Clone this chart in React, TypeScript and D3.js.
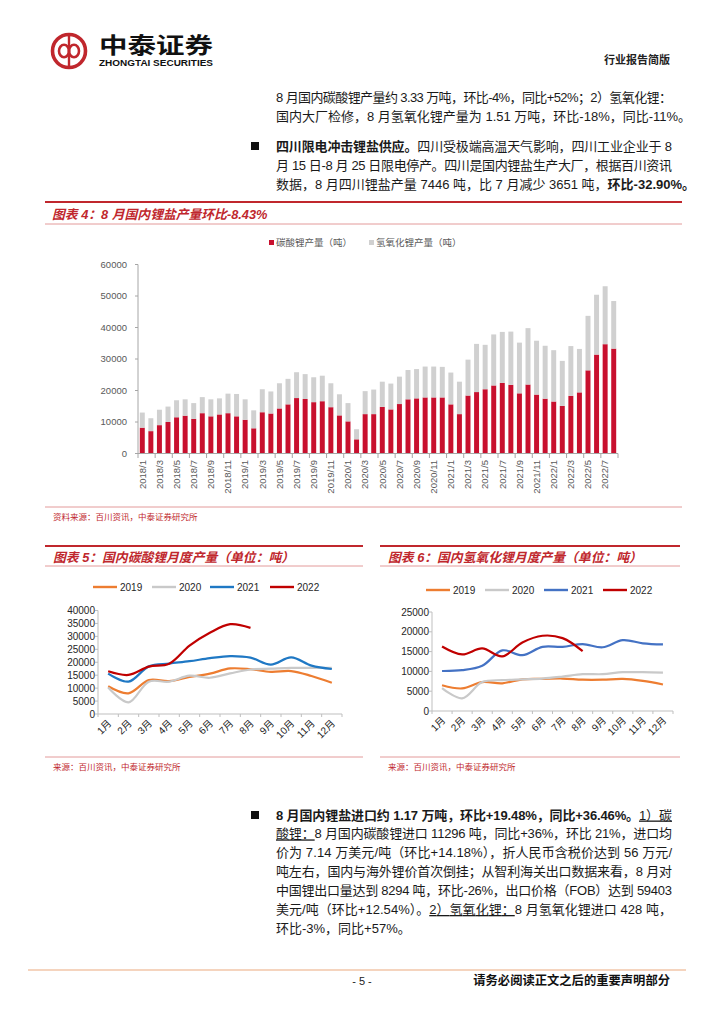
import React from "react";
import * as d3 from "d3";

// ---------- data ----------
const years = ["2018", "2019", "2020", "2021", "2022"];
const monthLabels = ["1月", "2月", "3月", "4月", "5月", "6月", "7月", "8月", "9月", "10月", "11月", "12月"];

const carbonate2018 = [8200, 7100, 9000, 10000, 11500, 12000, 11000, 12800, 11800, 12400, 12800, 11800];
const hydroxide2018 = [4800, 4100, 4900, 4900, 5400, 5200, 5000, 5100, 5400, 5100, 6200, 7100];
const carbonate2019 = [10700, 8000, 13100, 12700, 14300, 15600, 17600, 17300, 16300, 16600, 14700, 12100];
const hydroxide2019 = [6500, 5700, 7300, 7000, 8000, 8100, 8200, 7900, 7900, 8100, 7600, 6700];
const carbonate2020 = [10200, 4500, 12500, 12500, 14800, 14000, 15700, 17200, 17500, 17800, 17800, 17800];
const hydroxide2020 = [5800, 3200, 7300, 7800, 8000, 8200, 8700, 9300, 9300, 9800, 9800, 9700];
const carbonate2021 = [15600, 12500, 18400, 19500, 20400, 21600, 22400, 21800, 19100, 21900, 18700, 17400];
const hydroxide2021 = [10100, 10300, 11400, 15300, 14100, 16200, 16200, 16900, 16100, 17900, 17100, 16800];
const carbonate2022 = [16500, 15100, 18300, 19400, 26400, 31400, 34700, 33300];
const hydroxide2022 = [16300, 14300, 15800, 13800, 17300, 19000, 18400, 15100];

const carbonateByYear = [carbonate2018, carbonate2019, carbonate2020, carbonate2021, carbonate2022];
const hydroxideByYear = [hydroxide2018, hydroxide2019, hydroxide2020, hydroxide2021, hydroxide2022];

const yTicks4 = [0, 10000, 20000, 30000, 40000, 50000, 60000];
const yTicks5 = [0, 5000, 10000, 15000, 20000, 25000, 30000, 35000, 40000];
const yTicks6 = [0, 5000, 10000, 15000, 20000, 25000];

const lineYears = ["2019", "2020", "2021", "2022"];
const lineColors5 = ["#ED7D31", "#C9C9C9", "#1F78C4", "#C00000"];
const lineColors6 = ["#ED7D31", "#C9C9C9", "#4472C4", "#C00000"];

// ---------- style ----------
const SANS = "'Liberation Sans', Arial, 'Noto Sans CJK SC', sans-serif";
const CJK = "'Liberation Sans', 'Noto Sans CJK SC', sans-serif";
const RED = "#C0272D";
const THIN = "#E39A9A";
const TXT = "#1a1a1a";

type Seg = { t: string; b?: boolean; u?: boolean };

function Line({ x, y, segs, width }: { x: number; y: number; segs: Seg[]; width?: number }) {
  return (
    <text
      x={x}
      y={y}
      fontSize={13}
      fontFamily={CJK}
      fill={TXT}
      textLength={width}
      lengthAdjust={width ? "spacing" : undefined}
    >
      {segs.map((s, i) => (
        <tspan key={i} fontWeight={s.b ? 700 : 400} textDecoration={s.u ? "underline" : undefined}>
          {s.t}
        </tspan>
      ))}
    </text>
  );
}

const TX = 276;
const TW = 396;

const p1: Seg[][] = [
  [{ t: "8 月国内碳酸锂产量约 3.33 万吨，环比-4%，同比+52%；2）氢氧化锂：" }],
  [{ t: "国内大厂检修，8 月氢氧化锂产量为 1.51 万吨，环比-18%，同比-11%。" }],
];
const p2: Seg[][] = [
  [{ t: "四川限电冲击锂盐供应。", b: true }, { t: "四川受极端高温天气影响，四川工业企业于 8" }],
  [{ t: "月 15 日-8 月 25 日限电停产。四川是国内锂盐生产大厂，根据百川资讯" }],
  [{ t: "数据，8 月四川锂盐产量 7446 吨，比 7 月减少 3651 吨，" }, { t: "环比-32.90%。", b: true }],
];
const p3: Seg[][] = [
  [{ t: "8 月国内锂盐进口约 1.17 万吨，环比+19.48%，同比+36.46%。", b: true }, { t: "1）碳", u: true }],
  [{ t: "酸锂：", u: true }, { t: "8 月国内碳酸锂进口 11296 吨，同比+36%，环比 21%，进口均" }],
  [{ t: "价为 7.14 万美元/吨（环比+14.18%），折人民币含税价达到 56 万元/" }],
  [{ t: "吨左右，国内与海外锂价首次倒挂；从智利海关出口数据来看，8 月对" }],
  [{ t: "中国锂出口量达到 8294 吨，环比-26%，出口价格（FOB）达到 59403" }],
  [{ t: "美元/吨（环比+12.54%）。" }, { t: "2）氢氧化锂：", u: true }, { t: "8 月氢氧化锂进口 428 吨，" }],
  [{ t: "环比-3%，同比+57%。" }],
];

function Paragraph({ lines, y0, step }: { lines: Seg[][]; y0: number; step: number }) {
  return (
    <g>
      {lines.map((segs, i) => (
        <Line key={i} x={TX} y={y0 + i * step} segs={segs} width={i < lines.length - 1 ? TW : undefined} />
      ))}
    </g>
  );
}

// ---------- bar chart (chart 4) ----------
function BarChart() {
  const rows: { label: string; carbonate: number; hydroxide: number }[] = [];
  years.forEach((yr, yi) => {
    carbonateByYear[yi].forEach((c, mi) => {
      rows.push({ label: `${yr}/${mi + 1}`, carbonate: c, hydroxide: hydroxideByYear[yi][mi] });
    });
  });
  const x = d3.scaleBand<string>().domain(rows.map((r) => r.label)).range([138, 618]).paddingInner(0.42).paddingOuter(0.21);
  const y = d3.scaleLinear().domain([0, 60000]).range([453.5, 264.5]);
  const stack = d3.stack<any>().keys(["carbonate", "hydroxide"])(rows as any);
  const colors = ["#C8102E", "#D0D0D0"];
  const step = x.step();
  return (
    <g>
      {stack.map((layer, li) => (
        <g key={li} fill={colors[li]}>
          {layer.map((d, i) => (
            <rect key={i} x={x(rows[i].label)!} width={x.bandwidth()} y={y(d[1])} height={y(d[0]) - y(d[1])} />
          ))}
        </g>
      ))}
      <line x1={138} x2={138} y1={264.5} y2={453.5} stroke="#A6A6A6" strokeWidth={1} />
      <line x1={138} x2={618} y1={453.5} y2={453.5} stroke="#A6A6A6" strokeWidth={1} />
      {yTicks4.map((t) => (
        <g key={t}>
          <line x1={135} x2={138} y1={y(t)} y2={y(t)} stroke="#A6A6A6" />
          <text x={127} y={y(t) + 3.3} fontSize={9.5} fill="#595959" textAnchor="end" fontFamily={SANS}>
            {t}
          </text>
        </g>
      ))}
      {rows.map((r, i) =>
        i % 2 === 0 ? (
          <g key={r.label}>
            <line x1={138 + i * step} x2={138 + i * step} y1={453.5} y2={458} stroke="#A6A6A6" />
            <text
              transform={`translate(${x(r.label)! + x.bandwidth() / 2 + 3.3},460) rotate(-90)`}
              fontSize={9.5}
              fill="#595959"
              textAnchor="end"
              fontFamily={SANS}
            >
              {r.label}
            </text>
          </g>
        ) : null
      )}
      <line x1={618} x2={618} y1={453.5} y2={458} stroke="#A6A6A6" />
      <rect x={269} y={240} width={5} height={5} fill={colors[0]} />
      <text x={276} y={246} fontSize={9.5} fill="#595959" fontFamily={CJK}>碳酸锂产量（吨）</text>
      <rect x={369} y={240} width={5} height={5} fill={colors[1]} />
      <text x={376} y={246} fontSize={9.5} fill="#595959" fontFamily={CJK}>氢氧化锂产量（吨）</text>
    </g>
  );
}

// ---------- line charts ----------
function LineChart({
  series,
  colors,
  x0,
  x1,
  yTop,
  yBot,
  yMax,
  ticks,
  labelX,
  legendY,
  legendX,
}: {
  series: number[][];
  colors: string[];
  x0: number;
  x1: number;
  yTop: number;
  yBot: number;
  yMax: number;
  ticks: number[];
  labelX: number;
  legendY: number;
  legendX: number[];
}) {
  const x = d3.scaleBand<string>().domain(monthLabels).range([x0, x1]);
  const y = d3.scaleLinear().domain([0, yMax]).range([yBot, yTop]);
  const cx = (i: number) => x(monthLabels[i])! + x.bandwidth() / 2;
  const line = d3
    .line<number>()
    .x((_, i) => cx(i))
    .y((d) => y(d))
    .curve(d3.curveCatmullRom.alpha(0.5));
  return (
    <g>
      <line x1={x0} x2={x0} y1={yTop} y2={yBot} stroke="#BFBFBF" />
      <line x1={x0} x2={x1} y1={yBot} y2={yBot} stroke="#BFBFBF" />
      {ticks.map((t) => (
        <g key={t}>
          <line x1={x0 - 3} x2={x0} y1={y(t)} y2={y(t)} stroke="#BFBFBF" />
          <text x={labelX} y={y(t) + 3.6} fontSize={10} fill="#262626" textAnchor="end" fontFamily={SANS}>
            {t}
          </text>
        </g>
      ))}
      {monthLabels.map((m, i) => (
        <g key={m}>
          <line x1={x0 + i * x.step()} x2={x0 + i * x.step()} y1={yBot} y2={yBot + 3} stroke="#BFBFBF" />
          <text
            transform={`translate(${cx(i) + 4},${yBot + 10}) rotate(-45)`}
            fontSize={10}
            fill="#262626"
            textAnchor="end"
            fontFamily={CJK}
          >
            {m}
          </text>
        </g>
      ))}
      <line x1={x1} x2={x1} y1={yBot} y2={yBot + 3} stroke="#BFBFBF" />
      {series.map((s, si) => (
        <path key={si} d={line(s) || ""} fill="none" stroke={colors[si]} strokeWidth={2.2} strokeLinejoin="round" />
      ))}
      {lineYears.map((yr, i) => (
        <g key={yr}>
          <line x1={legendX[i]} x2={legendX[i] + 24} y1={legendY} y2={legendY} stroke={colors[i]} strokeWidth={2.4} />
          <text x={legendX[i] + 27} y={legendY + 3.6} fontSize={10} fill="#262626" fontFamily={SANS}>
            {yr}
          </text>
        </g>
      ))}
    </g>
  );
}

function Logo() {
  const cx = 69;
  const cy = 51;
  return (
    <g>
      <circle cx={cx} cy={cy} r={16.5} fill="none" stroke={RED} strokeWidth={3.6} />
      <ellipse cx={cx - 5} cy={cy} rx={5} ry={6.2} fill="none" stroke={RED} strokeWidth={2.6} />
      <ellipse cx={cx + 5} cy={cy} rx={5} ry={6.2} fill="none" stroke={RED} strokeWidth={2.6} />
      <line x1={cx} x2={cx} y1={cy - 15} y2={cy + 15} stroke={RED} strokeWidth={2.4} />
      <text x={99} y={52.5} fontSize={22} fontWeight={700} fontFamily="'Noto Sans CJK SC', sans-serif" fill="#111" textLength={114} lengthAdjust="spacingAndGlyphs">
        中泰证券
      </text>
      <text x={99} y={66} fontSize={9} fontWeight={700} fontFamily={SANS} fill="#111" textLength={114} lengthAdjust="spacingAndGlyphs">
        ZHONGTAI SECURITIES
      </text>
    </g>
  );
}

function ChartTitle({ x1, x2, x, text, yTop, yThin, titleY }: { x1: number; x2: number; x: number; text: string; yTop: number; yThin: number; titleY: number }) {
  return (
    <g>
      <line x1={x1} x2={x2} y1={yTop} y2={yTop} stroke={RED} strokeWidth={2} />
      <text x={x} y={titleY} fontSize={12.8} fontWeight={700} fontStyle="italic" fill={RED} fontFamily={CJK}>
        {text}
      </text>
      <line x1={x1} x2={x2} y1={yThin} y2={yThin} stroke={THIN} strokeWidth={1} />
    </g>
  );
}

export default function App() {
  const s5 = [carbonate2019, carbonate2020, carbonate2021, carbonate2022];
  const s6 = [hydroxide2019, hydroxide2020, hydroxide2021, hydroxide2022];
  return (
    <svg width={724} height={1024} style={{ position: "absolute", left: 0, top: 0, background: "#fff" }}>
      <rect width={724} height={1024} fill="#fff" />
      <Logo />
      <text x={670} y={64} fontSize={11} fontWeight={700} fill="#222" textAnchor="end" fontFamily={CJK}>
        行业报告简版
      </text>

      <Paragraph lines={p1} y0={101.5} step={19.3} />
      <rect x={251} y={142} width={8} height={8} fill="#111" />
      <Paragraph lines={p2} y0={150.5} step={19.2} />

      <ChartTitle x1={45} x2={682} x={52} yTop={202} yThin={224} titleY={218.5} text="图表 4：8 月国内锂盐产量环比-8.43%" />
      <BarChart />
      <line x1={45} x2={682} y1={507} y2={507} stroke={THIN} />
      <text x={53} y={520} fontSize={8.5} fill={RED} fontFamily={CJK}>资料来源：百川资讯，中泰证券研究所</text>

      <ChartTitle x1={45} x2={363} x={53} yTop={546} yThin={566} titleY={562} text="图表 5：国内碳酸锂月度产量（单位：吨）" />
      <LineChart
        series={s5}
        colors={lineColors5}
        x0={98}
        x1={342}
        yTop={610.5}
        yBot={714}
        yMax={40000}
        ticks={yTicks5}
        labelX={95}
        legendY={587}
        legendX={[93, 152, 210, 270]}
      />
      <line x1={45} x2={363} y1={757} y2={757} stroke={THIN} />
      <text x={53} y={770} fontSize={8.5} fill={RED} fontFamily={CJK}>来源：百川资讯，中泰证券研究所</text>

      <ChartTitle x1={380} x2={680} x={388} yTop={546} yThin={566} titleY={562} text="图表 6：国内氢氧化锂月度产量（单位：吨）" />
      <LineChart
        series={s6}
        colors={lineColors6}
        x0={432}
        x1={673}
        yTop={612}
        yBot={711}
        yMax={25000}
        ticks={yTicks6}
        labelX={429}
        legendY={590}
        legendX={[426, 485, 544, 603]}
      />
      <line x1={380} x2={680} y1={757} y2={757} stroke={THIN} />
      <text x={388} y={770} fontSize={8.5} fill={RED} fontFamily={CJK}>来源：百川资讯，中泰证券研究所</text>

      <rect x={251} y={811} width={8} height={8} fill="#111" />
      <Paragraph lines={p3} y0={819.5} step={18.9} />

      <line x1={28} x2={686} y1={970} y2={970} stroke="#F2C6A8" strokeWidth={1.5} />
      <text x={362} y={985} fontSize={11} fill="#222" textAnchor="middle" fontFamily={SANS}>- 5 -</text>
      <text x={670} y={985} fontSize={12.3} fontWeight={700} fill="#111" textAnchor="end" fontFamily={CJK}>
        请务必阅读正文之后的重要声明部分
      </text>
    </svg>
  );
}
